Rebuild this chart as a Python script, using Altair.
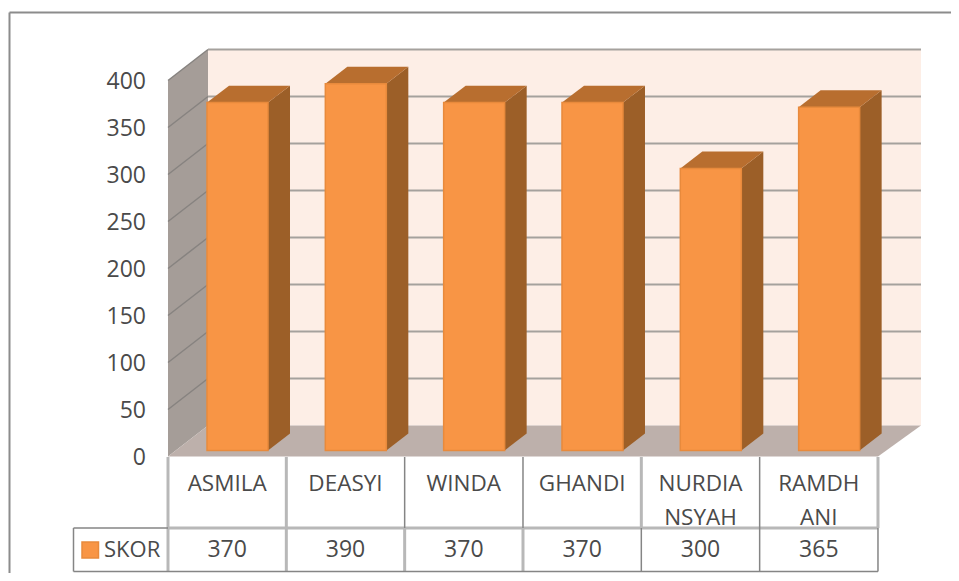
import altair as alt
import pandas as pd

names = ["ASMILA", "DEASYI", "WINDA", "GHANDI", "NURDIA", "RAMDH"]
names2 = ["", "", "", "", "NSYAH", "ANI"]
scores = [370, 390, 370, 370, 300, 365]
ticks = [0, 50, 100, 150, 200, 250, 300, 350, 400]
series = "SKOR"

FONT = "Open Sans"
PX_U = 118.33
PX_V = 0.94
X0 = 168.0
Y0 = 456.5
W, H = 943, 565


def u(px):
    return (px - X0) / PX_U


def v(py):
    return (Y0 - py) / PX_V


xs = alt.Scale(domain=[u(8), u(8 + W)], range=[0, W], nice=False, zero=False)
ys = alt.Scale(domain=[v(8 + H), v(8)], range=[H, 0], nice=False, zero=False)
X = alt.X("x:Q", scale=xs, axis=None)
Y = alt.Y("y:Q", scale=ys, axis=None)
X2 = alt.X2("x2:Q")
Y2 = alt.Y2("y2:Q")

N = len(names)
DX, DY = 40 / PX_U, 33.0     # wall depth
END = N + DX + 3 / PX_U      # right end of the back wall
BL, BR = 39 / PX_U, 100 / PX_U  # bar edges in a category
BDX, BDY = 22 / PX_U, 18.0   # bar depth
BASE = 6.5
C_FRONT, C_SIDE, C_TOP = "#F89545", "#9C5F28", "#B86E2F"
C_EDGE = "#E88A3C"
C_GRID = "#A5A19D"
C_WALLGRID = "#878380"
C_TEXT = "#4a4a4a"
C_LIGHT = "#B8B8B8"
C_DARK = "#858585"

layers = []

# back wall
layers.append(alt.Chart(pd.DataFrame([{"x": DX, "x2": END, "y": DY, "y2": 400 + DY}]))
              .mark_rect(color="#FDEEE6").encode(x=X, x2=X2, y=Y, y2=Y2))
# left wall
layers.append(alt.Chart(pd.DataFrame([{"x": 0, "y": 0, "y2": 400}, {"x": DX, "y": DY, "y2": 400 + DY}]))
              .mark_area(color="#A59D98", orient="vertical").encode(x=X, y=Y, y2=Y2))
# floor
layers.append(alt.Chart(pd.DataFrame([{"y": 0, "x": 0, "x2": N}, {"y": DY, "x": DX, "x2": END}]))
              .mark_area(color="#BDB0AB", orient="horizontal").encode(y=Y, x=X, x2=X2))

# gridlines
back_grid, wall_grid = [], []
for t in ticks:
    if t == 0:
        continue
    wall_grid += [{"x": 0, "y": t, "g": t}, {"x": DX, "y": t + DY, "g": t}]
    back_grid += [{"x": DX, "y": t + DY, "g": t}, {"x": END, "y": t + DY, "g": t}]
layers.append(alt.Chart(pd.DataFrame(wall_grid)).mark_line(color=C_WALLGRID, strokeWidth=1.5)
              .encode(x=X, y=Y, detail="g:N"))
layers.append(alt.Chart(pd.DataFrame(back_grid)).mark_line(color=C_GRID, strokeWidth=2)
              .encode(x=X, y=Y, detail="g:N"))

# bars
side, top, front = [], [], []
for i, s in enumerate(scores):
    l, r = i + BL, i + BR
    t = BASE + s
    front.append({"x": l, "x2": r, "y": BASE, "y2": t})
    side += [{"x": r, "y": BASE, "y2": t, "b": i}, {"x": r + BDX, "y": BASE + BDY, "y2": t + BDY, "b": i}]
    top += [{"y": t, "x": l, "x2": r, "b": i}, {"y": t + BDY, "x": l + BDX, "x2": r + BDX, "b": i}]
layers.append(alt.Chart(pd.DataFrame(side)).mark_area(color=C_SIDE, orient="vertical")
              .encode(x=X, y=Y, y2=Y2, detail="b:N"))
layers.append(alt.Chart(pd.DataFrame(top)).mark_area(color=C_TOP, orient="horizontal")
              .encode(y=Y, x=X, x2=X2, detail="b:N"))
layers.append(alt.Chart(pd.DataFrame(front)).mark_rect(color=C_FRONT, stroke=C_EDGE, strokeWidth=1.5)
              .encode(x=X, x2=X2, y=Y, y2=Y2))

# y tick labels
layers.append(alt.Chart(pd.DataFrame({"y": ticks, "x": [u(146)] * len(ticks)}))
              .mark_text(align="right", baseline="middle", font=FONT, fontSize=23, color=C_TEXT, dy=1.5)
              .encode(x=X, y=Y, text="y:Q"))

# data table
R0, R1, R2 = v(457), v(528), v(571.5)
LEFT = u(73.5)
upper_light = [0, 1, 4, 6]
upper_dark = [2, 3, 5]
lower_light = [0, 1, 2, 3]
lower_dark = [4, 5, 6]
light = [{"x": k, "y": R0, "y2": R1} for k in upper_light] + [{"x": k, "y": R1, "y2": R2} for k in lower_light]
dark = [{"x": k, "y": R0, "y2": R1} for k in upper_dark] + [{"x": k, "y": R1, "y2": R2} for k in lower_dark]
dark.append({"x": LEFT, "y": R1, "y2": R2})
layers.append(alt.Chart(pd.DataFrame([{"x": 0, "x2": N, "y": R1}]))
              .mark_rule(color=C_LIGHT, strokeWidth=3).encode(x=X, x2=X2, y=Y))
layers.append(alt.Chart(pd.DataFrame(light)).mark_rule(color=C_LIGHT, strokeWidth=3)
              .encode(x=X, y=Y, y2=Y2))
layers.append(alt.Chart(pd.DataFrame(dark)).mark_rule(color=C_DARK, strokeWidth=1.5)
              .encode(x=X, y=Y, y2=Y2))
layers.append(alt.Chart(pd.DataFrame([{"x": LEFT, "x2": 0, "y": R1}, {"x": LEFT, "x2": N, "y": R2}]))
              .mark_rule(color=C_DARK, strokeWidth=1.5).encode(x=X, x2=X2, y=Y))

R_TEXT1, R_TEXT2, R_TEXT3 = v(484), v(517.5), v(550)
cx = [i + 0.5 for i in range(N)]
layers.append(alt.Chart(pd.DataFrame({"x": cx, "y": [R_TEXT1] * N, "t": names}))
              .mark_text(align="center", baseline="middle", font=FONT, fontSize=22.5, color=C_TEXT)
              .encode(x=X, y=Y, text="t:N"))
layers.append(alt.Chart(pd.DataFrame({"x": cx, "y": [R_TEXT2] * N, "t": names2}))
              .mark_text(align="center", baseline="middle", font=FONT, fontSize=22.5, color=C_TEXT)
              .encode(x=X, y=Y, text="t:N"))
layers.append(alt.Chart(pd.DataFrame({"x": cx, "y": [R_TEXT3] * N, "t": scores}))
              .mark_text(align="center", baseline="middle", font=FONT, fontSize=23, color=C_TEXT)
              .encode(x=X, y=Y, text="t:Q"))
# legend key
layers.append(alt.Chart(pd.DataFrame([{"x": u(82), "x2": u(98.5), "y": v(542), "y2": v(558)}]))
              .mark_rect(color=C_FRONT, stroke=C_EDGE, strokeWidth=1.5).encode(x=X, x2=X2, y=Y, y2=Y2))
layers.append(alt.Chart(pd.DataFrame([{"x": u(104), "y": R_TEXT3, "t": series}]))
              .mark_text(align="left", baseline="middle", font=FONT, fontSize=22, color=C_TEXT)
              .encode(x=X, y=Y, text="t:N"))

# outer frame
frame = alt.Chart(pd.DataFrame({"a": [0]}))
layers.append(frame.mark_rule(color="#8C8C8C", strokeWidth=2).encode(
    x=alt.value(1.5), y=alt.value(4.5), y2=alt.value(H)))
layers.append(frame.mark_rule(color="#8C8C8C", strokeWidth=2).encode(
    x=alt.value(1.5), x2=alt.value(W), y=alt.value(4.5)))

chart = alt.layer(*layers).properties(
    width=W, height=H, padding=0, autosize=alt.AutoSizeParams(type="none")
).configure_view(stroke=None)

chart.save("out.html", embed_options={"renderer": "svg", "actions": False})
